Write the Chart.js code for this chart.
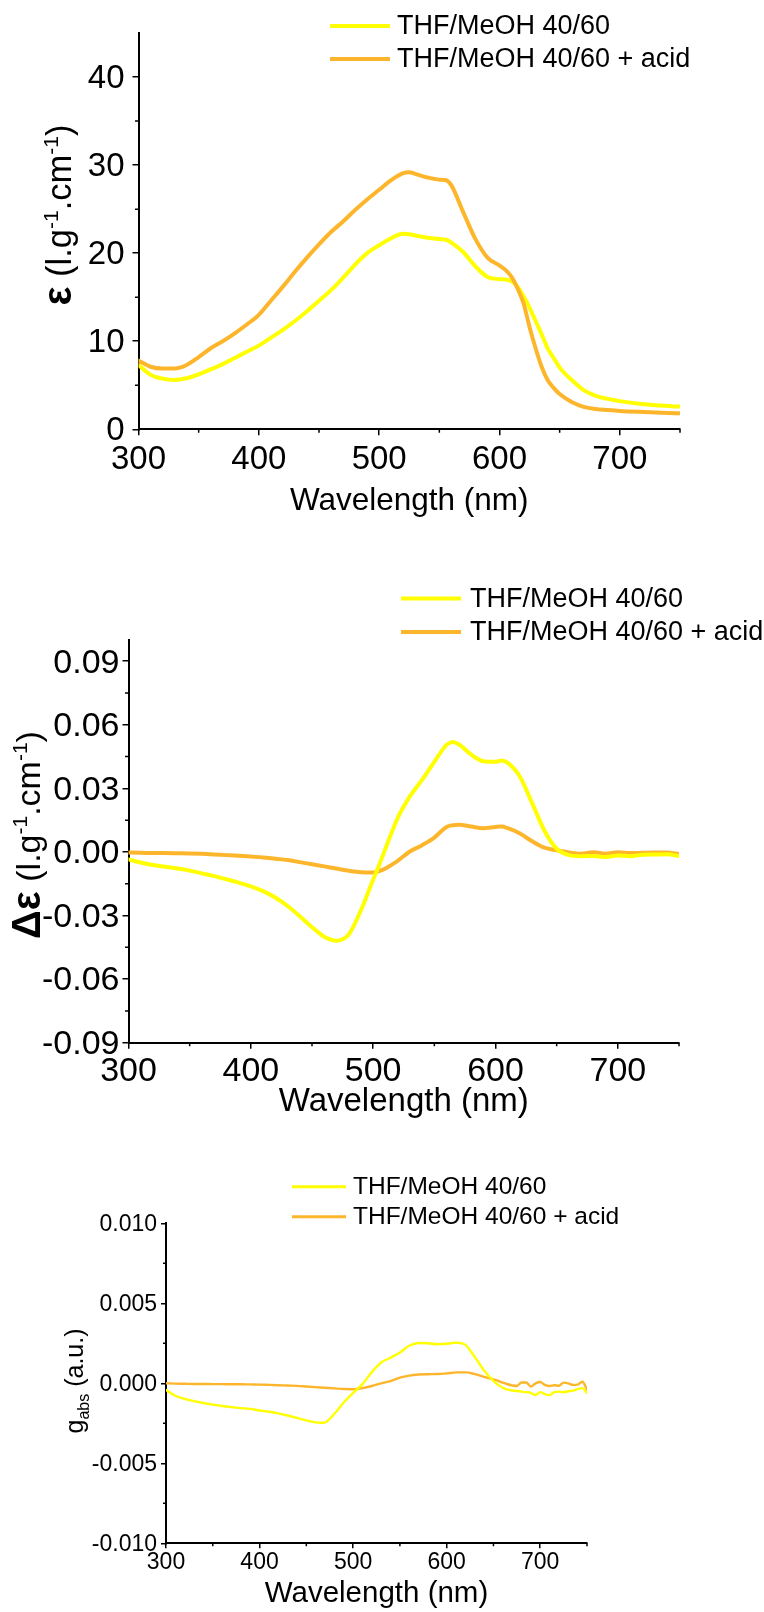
<!DOCTYPE html>
<html>
<head>
<meta charset="utf-8">
<script src="https://cdn.jsdelivr.net/npm/chart.js@4.4.0/dist/chart.umd.min.js"></script>
<style>
  body { margin: 0; background: #fff; }
  #page { position: relative; width: 764px; height: 1612px; }
  .box { position: absolute; left: 0; width: 764px; }
  .box canvas { display: block; }
</style>
</head>
<body>
<div id="page">
  <div class="box" style="top:0;height:520px"><canvas id="absChart" width="764" height="520"></canvas></div>
  <div class="box" style="top:538px;height:584px"><canvas id="cdChart" width="764" height="584"></canvas></div>
  <div class="box" style="top:1120px;height:492px"><canvas id="gChart" width="764" height="492"></canvas></div>
</div>
<script>
// ---- data ----
const seriesNames = ['THF/MeOH 40/60', 'THF/MeOH 40/60 + acid'];
const xTicks = [300, 400, 500, 600, 700];
const xMinor = [350, 450, 550, 650, 750];

// top panel: epsilon
const wl1 = [300,310,320,330,340,350,360,370,380,390,400,410,420,430,440,450,460,470,480,490,500,
  510,520,525,530,540,550,555,560,570,580,590,600,605,610,615,620,625,630,635,640,645,650,
  660,670,680,690,700,720,740,750];
const eps = [7.3,6.2,5.75,5.6,5.8,6.25,6.8,7.4,8.1,8.8,9.5,10.4,11.3,12.3,13.4,14.6,15.8,17.2,18.7,20.0,20.9,
  21.7,22.2,22.15,22.0,21.75,21.6,21.55,21.2,20.1,18.5,17.3,17.05,17.0,16.8,16.2,15.1,13.8,12.3,10.8,9.2,8.1,7.0,
  5.6,4.45,3.8,3.45,3.2,2.85,2.65,2.58];
const epsAcid = [7.8,7.1,6.9,6.9,7.3,8.2,9.2,10.0,10.9,11.9,13.0,14.6,16.2,17.9,19.5,21.0,22.4,23.6,24.9,26.1,27.2,
  28.3,29.1,29.2,29.0,28.6,28.35,28.3,27.7,24.6,21.6,19.5,18.6,18.1,17.3,16.0,14.3,11.6,9.2,7.1,5.6,4.7,4.0,
  3.1,2.55,2.3,2.18,2.08,1.96,1.86,1.82];
const yTicks1 = [0, 10, 20, 30, 40];
const yMinor1 = [5, 15, 25, 35];

// middle panel: delta epsilon
const wl2 = [300,310,320,330,340,350,360,370,380,390,400,410,420,430,440,450,460,465,470,475,480,490,500,505,510,
  520,530,540,550,560,565,570,580,590,600,605,610,620,630,640,650,660,670,680,690,700,710,720,730,740,750];
const dEps = [-0.0035,-0.0050,-0.0062,-0.0070,-0.0078,-0.0088,-0.0101,-0.0114,-0.0129,-0.0145,-0.0162,-0.0185,-0.0215,
  -0.0255,-0.0303,-0.0355,-0.0400,-0.0413,-0.0419,-0.0412,-0.0390,-0.0275,-0.0130,-0.0060,0.0015,
  0.0160,0.0262,0.0340,0.0425,0.0505,0.0519,0.0508,0.0460,0.0428,0.0425,0.0431,0.0420,0.0355,0.0230,0.0100,0.0015,
  -0.0015,-0.0020,-0.0019,-0.0024,-0.0017,-0.0020,-0.0013,-0.0012,-0.0011,-0.0019];
const dEpsAcid = [-0.0003,-0.0004,-0.0005,-0.0005,-0.0006,-0.0007,-0.0009,-0.0012,-0.0015,-0.0018,-0.0022,-0.0026,-0.0032,
  -0.0038,-0.0048,-0.0058,-0.0068,-0.0073,-0.0078,-0.0084,-0.0089,-0.0096,-0.0097,-0.0090,-0.0078,
  -0.0042,0.0002,0.0032,0.0068,0.0118,0.0126,0.0128,0.0120,0.0112,0.0118,0.0120,0.0112,0.0087,0.0050,0.0020,0.0008,
  -0.0002,-0.0008,-0.0001,-0.0008,-0.0002,-0.0005,-0.0004,-0.0003,-0.0003,-0.0010];
const yTicks2 = [-0.09, -0.06, -0.03, 0, 0.03, 0.06, 0.09];
const yMinor2 = [-0.075, -0.045, -0.015, 0.015, 0.045, 0.075];

// bottom panel: g_abs
const wl3 = [300,310,320,330,340,350,360,370,380,390,400,410,420,430,440,450,460,465,470,480,490,500,510,520,530,540,
  550,560,570,580,590,600,610,620,630,640,650,655,660,665,670,675,680,685,690,695,700,705,710,715,720,725,730,735,740,745,750];
const gAbs = [-0.00042,-0.00078,-0.00097,-0.00111,-0.00123,-0.00133,-0.00142,-0.00149,-0.00155,-0.00160,-0.00170,-0.00178,
  -0.00188,-0.00201,-0.00216,-0.00232,-0.00244,-0.00247,-0.00244,-0.00190,-0.00120,-0.00060,-0.00005,0.00070,0.00130,0.00160,
  0.00192,0.00235,0.00252,0.00250,0.00244,0.00247,0.00254,0.00240,0.00165,0.00080,0.00015,-0.00010,-0.00028,-0.00040,
  -0.00045,-0.00048,-0.00052,-0.00055,-0.00060,-0.00073,-0.00055,-0.00068,-0.00074,-0.00055,-0.00052,-0.00056,-0.00050,
  -0.00046,-0.00036,-0.00030,-0.00062];
const gAbsAcid = [0,-0.00002,-0.00003,-0.00004,-0.00004,-0.00005,-0.00005,-0.00006,-0.00006,-0.00007,-0.00008,-0.00010,
  -0.00012,-0.00014,-0.00016,-0.00020,-0.00024,-0.00026,-0.00028,-0.00032,-0.00036,-0.00037,-0.00030,-0.00017,0,0.00013,
  0.00035,0.00048,0.00055,0.00057,0.00058,0.00062,0.00068,0.00068,0.00058,0.00040,0.00025,0.00015,0.00004,-0.00006,
  -0.00013,-0.00017,0.00005,0.00005,-0.00020,0,0.00008,-0.00010,-0.00017,-0.00012,-0.00015,0.00004,0,
  -0.00010,-0.00008,0.00010,-0.00038];
const yTicks3 = [-0.010, -0.005, 0, 0.005, 0.010];
const yMinor3 = [-0.0075, -0.0025, 0.0025, 0.0075];

const YELLOW = '#FFFF00';
const ORANGE = '#FDB62C';
const FONT = '"Liberation Sans", Arial, sans-serif';

function points(xs, ys) {
  return xs.map((x, i) => ({x: x, y: ys[i]}));
}

// short minor ticks, outside the axes
const minorTicks = {
  id: 'minorTicks',
  afterDraw(chart, args, o) {
    const {ctx, chartArea, scales} = chart;
    ctx.save();
    ctx.strokeStyle = '#000';
    ctx.lineWidth = o.width;
    ctx.beginPath();
    o.x.forEach(v => {
      const px = scales.x.getPixelForValue(v);
      ctx.moveTo(px, chartArea.bottom);
      ctx.lineTo(px, chartArea.bottom + o.len);
    });
    o.y.forEach(v => {
      const py = scales.y.getPixelForValue(v);
      ctx.moveTo(chartArea.left, py);
      ctx.lineTo(chartArea.left - o.len, py);
    });
    ctx.stroke();
    ctx.restore();
  }
};

// legend drawn where the original has it (overlapping the top of the axis)
const lineLegend = {
  id: 'lineLegend',
  afterDraw(chart, args, o) {
    const ctx = chart.ctx;
    ctx.save();
    chart.data.datasets.forEach((ds, i) => {
      const y = o.y0 + i * o.gap;
      ctx.strokeStyle = ds.borderColor;
      ctx.lineWidth = o.lineWidth;
      ctx.beginPath();
      ctx.moveTo(o.x0, y);
      ctx.lineTo(o.x1, y);
      ctx.stroke();
      ctx.fillStyle = '#000';
      ctx.font = o.size + 'px ' + FONT;
      ctx.textBaseline = 'middle';
      ctx.fillText(ds.label, o.tx, y + 1);
    });
    ctx.restore();
  }
};

// rotated y title with bold symbol and super/subscripts
const yTitle = {
  id: 'yTitle',
  afterDraw(chart, args, o) {
    const ctx = chart.ctx;
    const fontOf = p => (p.bold ? 'bold ' : '') + p.size + 'px ' + FONT;
    ctx.save();
    ctx.translate(o.cx, o.cy);
    ctx.rotate(-Math.PI / 2);
    ctx.fillStyle = '#000';
    ctx.textBaseline = 'alphabetic';
    let total = 0;
    o.parts.forEach(p => {
      ctx.font = fontOf(p);
      p.w = ctx.measureText(p.t).width;
      total += p.w;
    });
    let x = -total / 2;
    o.parts.forEach(p => {
      ctx.font = fontOf(p);
      ctx.fillText(p.t, x, o.base - (p.rise || 0));
      x += p.w;
    });
    ctx.restore();
  }
};

function spectrumChart(id, c) {
  return new Chart(document.getElementById(id), {
    type: 'line',
    data: {
      datasets: [
        { label: seriesNames[0], data: points(c.wl, c.a), borderColor: YELLOW, borderWidth: c.lw, order: c.orderA },
        { label: seriesNames[1], data: points(c.wl, c.b), borderColor: ORANGE, borderWidth: c.lw, order: c.orderB }
      ]
    },
    plugins: [minorTicks, lineLegend, yTitle],
    options: {
      responsive: false,
      animation: false,
      layout: { padding: c.pad },
      elements: {
        point: { radius: 0 },
        line: { cubicInterpolationMode: 'monotone', borderCapStyle: 'round', borderJoinStyle: 'round' }
      },
      plugins: {
        legend: { display: false },
        tooltip: { enabled: false },
        minorTicks: { x: xMinor, y: c.yMinor, len: c.minorLen, width: 1.5 },
        lineLegend: c.legend,
        yTitle: c.yTitle
      },
      scales: {
        x: {
          type: 'linear', min: 300, max: 750,
          afterBuildTicks: s => { s.ticks = xTicks.map(v => ({value: v})); },
          afterFit: s => { s.height = c.xh; },
          grid: { drawOnChartArea: false, drawTicks: true, tickLength: c.tickLen, color: '#000', lineWidth: 1.5 },
          border: { display: true, color: '#000', width: 2 },
          ticks: { color: '#000', font: { family: FONT, size: c.tickSize }, padding: c.xPad, maxRotation: 0, autoSkip: false },
          title: { display: true, text: 'Wavelength (nm)', color: '#000', font: { family: FONT, size: c.titleSize }, padding: 0 }
        },
        y: {
          type: 'linear', min: c.yMin, max: c.yMax,
          afterBuildTicks: s => { s.ticks = c.yTicks.map(v => ({value: v})); },
          afterFit: s => { s.width = c.yw; },
          grid: { drawOnChartArea: false, drawTicks: true, tickLength: c.tickLen, color: '#000', lineWidth: 1.5 },
          border: { display: true, color: '#000', width: 2 },
          ticks: {
            color: '#000', font: { family: FONT, size: c.tickSize }, padding: c.yPad, autoSkip: false,
            labelOffset: c.yShift,
            callback: v => v.toFixed(c.dec)
          }
        }
      }
    }
  });
}

spectrumChart('absChart', {
  wl: wl1, a: eps, b: epsAcid, lw: 4, orderA: 1, orderB: 0,
  yMin: 0, yMax: 45, yTicks: yTicks1, yMinor: yMinor1, dec: 0,
  pad: { left: 0, top: 33, right: 84, bottom: 0 }, yw: 138.5, xh: 90.7,
  tickLen: 6, minorLen: 3.5, tickSize: 33, titleSize: 31.5, xPad: 5, yPad: 8, yShift: 2,
  legend: { x0: 330, x1: 390, tx: 397, y0: 26, gap: 33, lineWidth: 4, size: 27 },
  yTitle: { cx: 60, cy: 215, base: 11, parts: [
    { t: 'ε', size: 40, bold: true }, { t: ' (l.g', size: 34.5 }, { t: '-1', size: 21, rise: 13 },
    { t: '.cm', size: 34.5 }, { t: '-1', size: 21, rise: 13 }, { t: ')', size: 34.5 } ] }
});

spectrumChart('cdChart', {
  wl: wl2, a: dEps, b: dEpsAcid, lw: 4, orderA: 0, orderB: 1,
  yMin: -0.09, yMax: 0.1, yTicks: yTicks2, yMinor: yMinor2, dec: 2,
  pad: { left: 0, top: 102, right: 85, bottom: 0 }, yw: 128.5, xh: 79.3,
  tickLen: 6, minorLen: 3.5, tickSize: 34, titleSize: 33, xPad: 3, yPad: 3, yShift: 2,
  legend: { x0: 401, x1: 461, tx: 470, y0: 60.5, gap: 33.4, lineWidth: 4, size: 27 },
  yTitle: { cx: 29, cy: 297, base: 11, parts: [
    { t: 'Δε', size: 40, bold: true }, { t: ' (l.g', size: 34 }, { t: '-1', size: 21, rise: 13 },
    { t: '.cm', size: 34 }, { t: '-1', size: 21, rise: 13 }, { t: ')', size: 34 } ] }
});

spectrumChart('gChart', {
  wl: wl3, a: gAbs, b: gAbsAcid, lw: 2.4, orderA: 0, orderB: 1,
  yMin: -0.010, yMax: 0.010, yTicks: yTicks3, yMinor: yMinor3, dec: 3,
  pad: { left: 0, top: 103.3, right: 177, bottom: 0 }, yw: 166, xh: 68.7,
  tickLen: 5, minorLen: 3, tickSize: 23, titleSize: 29.5, xPad: 1, yPad: 4, yShift: 1,
  legend: { x0: 292, x1: 346, tx: 353, y0: 66.7, gap: 30, lineWidth: 3, size: 24.5 },
  yTitle: { cx: 76, cy: 261, base: 7, parts: [
    { t: 'g', size: 25 }, { t: 'abs', size: 16, rise: -6 }, { t: ' (a.u.)', size: 25 } ] }
});
</script>
</body>
</html>
